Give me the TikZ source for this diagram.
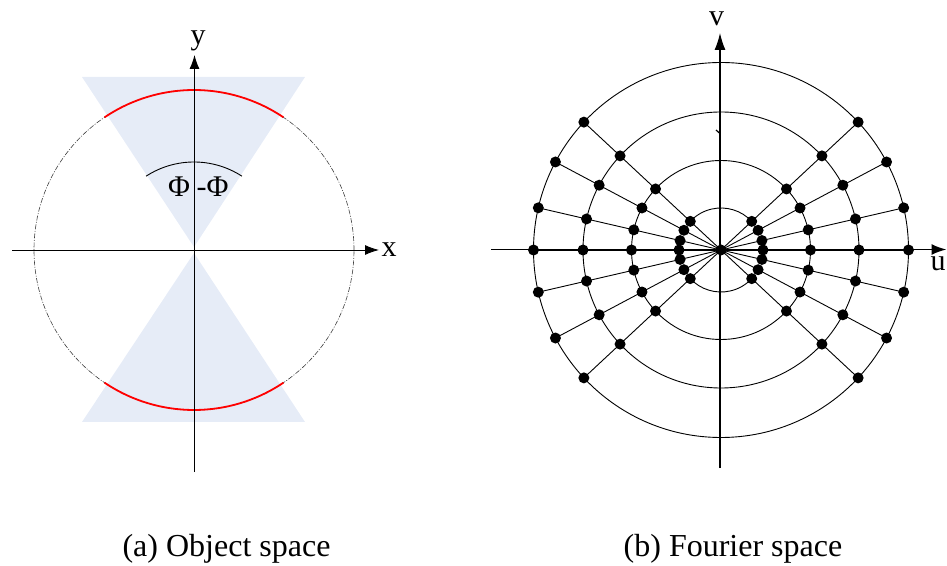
\documentclass[tikz,border=0pt]{standalone}
\usepackage{fontspec}
\setmainfont{Liberation Serif}
\usetikzlibrary{arrows.meta}
\definecolor{conefill}{RGB}{230,236,247}
\tikzset{
  axisline/.style={line width=0.9pt, -{Latex[length=14pt,width=10pt]}},
  dashcirc/.style={line width=0.6pt, black!75, dash pattern=on 5pt off 1.5pt on 1pt off 1.5pt},
  redarc/.style={line width=1.8pt, red},
  thinline/.style={line width=0.9pt},
  lbl/.style={inner sep=0pt, font=\fontsize{30}{36}\selectfont},
  captext/.style={inner sep=0pt, font=\fontsize{32}{38}\selectfont},
  dotmark/.style={fill=black}
}
\begin{document}
\begin{tikzpicture}[x=1pt,y=1pt]
\useasboundingbox (0,0) rectangle (947,565);
% ---------- (a) Object space ----------
\coordinate (L) at (194,315);
\fill[conefill] (82,488) -- (305,488) -- (194,318) -- cycle;
\fill[conefill] (82,143) -- (305,143) -- (194,312) -- cycle;
\draw[dashcirc] (L) circle[radius=160];
\draw[redarc] ([shift={(56:160)}]L) arc[start angle=56,end angle=124,radius=160];
\draw[redarc] ([shift={(-124:160)}]L) arc[start angle=-124,end angle=-56,radius=160];
\coordinate (xs) at (12,315);
\coordinate (xe) at (379,315);
\coordinate (ys) at (194.5,93);
\coordinate (ye) at (194.5,510);
\draw[axisline] (xs) -- (xe);
\draw[axisline] (ys) -- (ye);
\draw[thinline] ([shift={(57:88)}]L) arc[start angle=57,end angle=123,radius=88];
\node[lbl] (xl) at (389,315) {x};
\node[lbl] (yl) at (198,524) {y};
\node[lbl] (phi) at (179,378) {Φ};
\node[lbl] (mphi) at (212.5,378) {-Φ};
\node[captext] (capa) at (226.5,16) {(a) Object space};
% ---------- (b) Fourier space ----------
\coordinate (R) at (721,315);
\foreach \r in {187.5,138,89.5} \draw[thinline] (R) circle[radius=\r];
\draw[thinline] ([shift={(43:42)}]R) arc[start angle=43,end angle=137,radius=42];
\draw[thinline] ([shift={(223:42)}]R) arc[start angle=223,end angle=317,radius=42];
\foreach \a in {0,13,28,43,137,152,167,180,193,208,223,-13,-28,-43}
  \draw[thinline] (R) -- ++(\a:187.5);
\coordinate (us) at (491,315.5);
\coordinate (ue) at (946.5,315.5);
\coordinate (vs) at (720,97);
\coordinate (ve) at (720,532);
\draw[line width=1.8pt, -{Latex[length=15pt,width=11pt]}] (us) -- (ue);
\draw[line width=1.2pt, -{Latex[length=17pt,width=11pt]}] (vs) -- (ve);
\foreach \a in {0,13,28,43,137,152,167,180,193,208,223,-13,-28,-43}
  \foreach \r in {42,89.5,138,187.5}
    \fill[dotmark] (R) ++(\a:\r) circle[radius=5.5];
\fill[dotmark] (R) circle[radius=5.5];
\coordinate (tk1) at (716,435);
\coordinate (tk2) at (720.5,431);
\draw[line width=1.2pt] (tk1) -- (tk2);
\node[lbl] (ul) at (938,301.7) {u};
\node[lbl] (vl) at (716.7,546.7) {v};
\node[captext] (capb) at (733,16) {(b) Fourier space};
\end{tikzpicture}
\end{document}
